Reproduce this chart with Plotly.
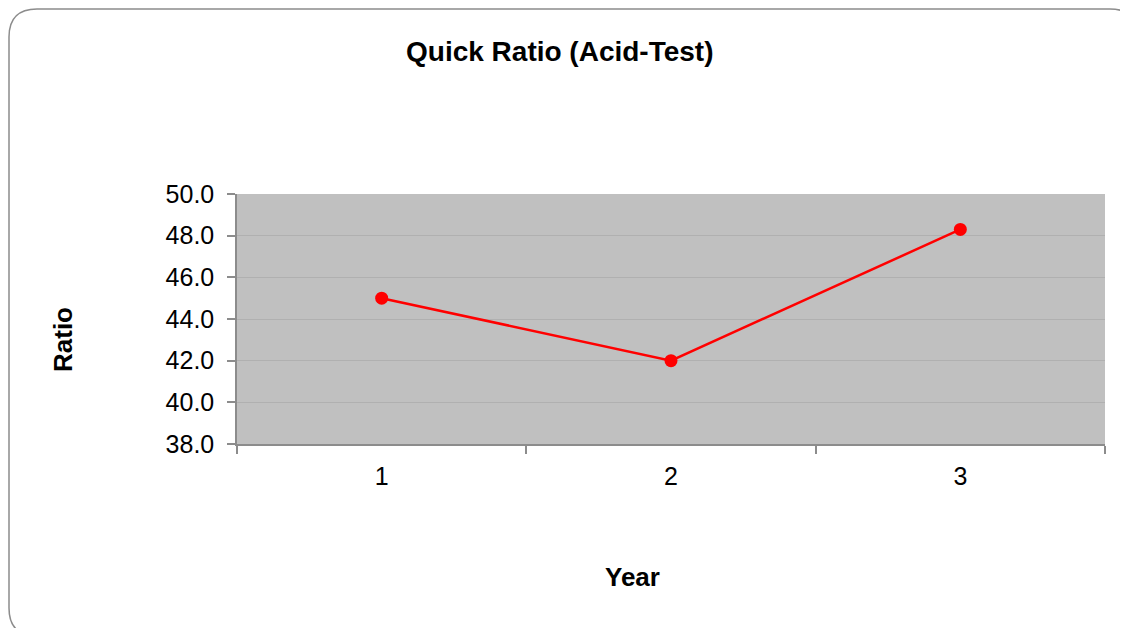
import plotly.graph_objects as go

years = [1, 2, 3]
year_labels = ["1", "2", "3"]
quick_ratio = [45.0, 42.0, 48.3]

# the page body has an 8px margin, so the figure is drawn 8px in from the corner
OFF = 8
W, H = 1128 - OFF, 628 - OFF
L, R, T, B = 237 - OFF, 23, 194 - OFF, 184
PW, PH = W - L - R, H - T - B

def px(x):  # reference page pixel -> paper
    return (x - OFF - L) / PW

def py(y):
    return (H - B - (y - OFF)) / PH

fig = go.Figure()
fig.add_trace(go.Scatter(
    x=years, y=quick_ratio, mode="lines+markers",
    line=dict(color="#ff0000", width=2.5),
    marker=dict(color="#ff0000", size=13),
    showlegend=False,
))

# rounded border around the chart area
x0, y0, x1, y1, r = 9, 9, 1138, 636, 28
path = (
    f"M {px(x0 + r)},{py(y0)} L {px(x1 - r)},{py(y0)} "
    f"Q {px(x1)},{py(y0)} {px(x1)},{py(y0 + r)} "
    f"L {px(x1)},{py(y1 - r)} Q {px(x1)},{py(y1)} {px(x1 - r)},{py(y1)} "
    f"L {px(x0 + r)},{py(y1)} Q {px(x0)},{py(y1)} {px(x0)},{py(y1 - r)} "
    f"L {px(x0)},{py(y0 + r)} Q {px(x0)},{py(y0)} {px(x0 + r)},{py(y0)} Z"
)

fig.update_layout(
    width=W, height=H,
    margin=dict(l=L, r=R, t=T, b=B),
    paper_bgcolor="white",
    plot_bgcolor="#c0c0c0",
    font=dict(family="Liberation Sans, Arial, sans-serif", color="black"),
    shapes=[dict(type="path", path=path, xref="paper", yref="paper",
                 line=dict(color="#8c8c8c", width=1.5), layer="below")],
    annotations=[
        dict(text="<b>Quick Ratio (Acid-Test)</b>", x=px(560), y=py(52),
             xref="paper", yref="paper", showarrow=False,
             font=dict(size=28), xanchor="center", yanchor="middle"),
        dict(text="<b>Year</b>", x=px(632), y=py(577),
             xref="paper", yref="paper", showarrow=False,
             font=dict(size=26), xanchor="center", yanchor="middle"),
        dict(text="<b>Ratio</b>", x=px(63), y=py(340),
             xref="paper", yref="paper", showarrow=False, textangle=-90,
             font=dict(size=26), xanchor="center", yanchor="middle"),
    ],
)

fig.update_xaxes(
    range=[0.5, 3.5], tickvals=years, ticktext=year_labels,
    ticks="", showgrid=False, zeroline=False,
    showline=True, linecolor="#8c8c8c", linewidth=1.5,
    tickfont=dict(size=25), ticklabelstandoff=9,
    minor=dict(tick0=0.5, dtick=1, ticks="outside", ticklen=8,
               tickcolor="#8c8c8c", tickwidth=1.5, showgrid=False),
)
fig.update_yaxes(
    range=[38, 50], dtick=2, tickformat=".1f",
    ticks="outside", ticklen=8, tickcolor="#8c8c8c", tickwidth=1.5,
    showgrid=True, gridcolor="#b0b0b0", gridwidth=1, zeroline=False,
    showline=True, linecolor="#8c8c8c", linewidth=1.5,
    tickfont=dict(size=25), ticklabelstandoff=8,
)

fig.write_html("out.html")
